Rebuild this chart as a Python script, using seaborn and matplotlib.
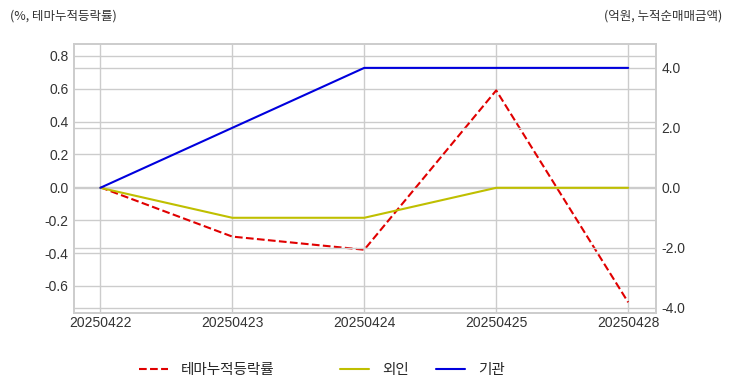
import seaborn as sns
import matplotlib.pyplot as plt
import pandas as pd
from matplotlib.ticker import FormatStrFormatter

dates = ["20250422", "20250423", "20250424", "20250425", "20250428"]
theme_ret = [0.0, -0.30, -0.38, 0.59, -0.70]
foreign = [0.0, -1.0, -1.0, 0.0, 0.0]
inst = [0.0, 2.0, 4.0, 4.0, 4.0]

sns.set_theme(style="whitegrid")
plt.rcParams['font.family'] = ['Liberation Sans', 'Noto Sans CJK KR', 'DejaVu Sans']
plt.rcParams['axes.unicode_minus'] = False
kr = ['Noto Sans CJK KR', 'DejaVu Sans']

df = pd.DataFrame({"date": dates, "theme": theme_ret, "foreign": foreign, "inst": inst})
df["x"] = range(len(df))

fig, ax1 = plt.subplots(figsize=(7.32, 3.92), dpi=100)
fig.subplots_adjust(left=0.101, right=0.896, top=0.888, bottom=0.202)
ax2 = ax1.twinx()

sns.lineplot(data=df, x="x", y="theme", ax=ax1, color="#e00000", linestyle="--",
             linewidth=1.5, label="테마누적등락률", legend=False)
sns.lineplot(data=df, x="x", y="foreign", ax=ax2, color="#bfbf00",
             linewidth=1.5, label="외인", legend=False)
sns.lineplot(data=df, x="x", y="inst", ax=ax2, color="#0000dd",
             linewidth=1.5, label="기관", legend=False)

ax1.set_xlim(-0.2, 4.21)
ax1.set_xticks(df["x"])
ax1.set_xticklabels(dates)
ax1.set_ylim(-0.764, 0.873)
ax1.set_yticks([0.8, 0.6, 0.4, 0.2, 0.0, -0.2, -0.4, -0.6])
ax1.yaxis.set_major_formatter(FormatStrFormatter('%.1f'))
ax2.set_ylim(-4.17, 4.8)
ax2.set_yticks([4, 2, 0, -2, -4])
ax2.yaxis.set_major_formatter(FormatStrFormatter('%.1f'))

for ax in (ax1, ax2):
    ax.set_xlabel("")
    ax.set_ylabel("")
    ax.tick_params(axis="y", labelsize=10, colors="#333333", length=0, pad=4)
    ax.tick_params(axis="x", labelsize=10, colors="#333333", length=0, pad=2)
    for s in ax.spines.values():
        s.set_color("#cccccc")
        s.set_linewidth(1.2)

fig.text(0.013, 0.96, "(%, 테마누적등락률)", fontsize=9, color="#333333", va="center", family=kr)
fig.text(0.987, 0.96, "(억원, 누적순매매금액)", fontsize=9, color="#333333", va="center",
         ha="right", family=kr)

h1, l1 = ax1.get_legend_handles_labels()
h2, l2 = ax2.get_legend_handles_labels()
leg_font = {"family": kr, "size": 10.5}
fig.legend(h1, l1, loc="center", bbox_to_anchor=(0.282, 0.056), frameon=False,
           prop=leg_font, handlelength=2.0, handletextpad=0.85)
fig.legend(h2, l2, loc="center", bbox_to_anchor=(0.577, 0.056), frameon=False,
           prop=leg_font, ncol=2, handlelength=2.0, handletextpad=0.85, columnspacing=1.9)

fig.savefig("out.png", dpi=100)
